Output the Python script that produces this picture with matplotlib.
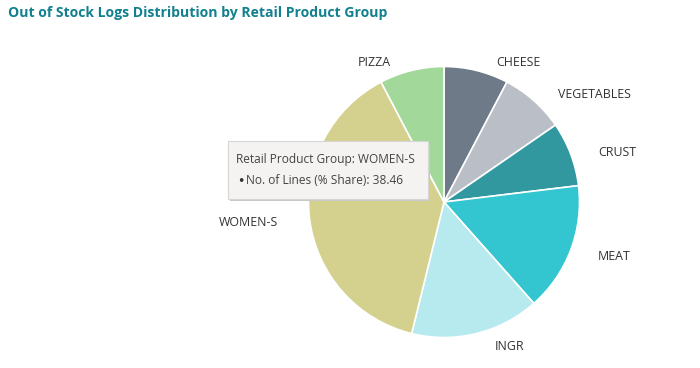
import matplotlib
matplotlib.use("Agg")
import matplotlib.pyplot as plt
from matplotlib.patches import FancyBboxPatch

categories = ["CHEESE", "VEGETABLES", "CRUST", "MEAT", "INGR", "WOMEN-S", "PIZZA"]
lines_count = [1, 1, 1, 2, 2, 5, 1]
share_pct = [7.69, 7.69, 7.69, 15.38, 15.38, 38.46, 7.69]
colors = ["#6e7a87", "#b9bec7", "#31989f", "#33c5d0", "#b7eaee", "#d4d18e", "#a2d89a"]
title = "Out of Stock Logs Distribution by Retail Product Group"
tooltip_group = "WOMEN-S"

W, H = 700, 368
fig = plt.figure(figsize=(W / 100, H / 100), dpi=100)
ax = fig.add_axes([0, 0, 1, 1])
ax.set_xlim(0, W)
ax.set_ylim(0, H)
ax.set_aspect("equal")
ax.axis("off")

cx, cy, r = 444, H - 202, 135.5
wedges, texts = ax.pie(share_pct, labels=categories, colors=colors, startangle=90,
                       counterclock=False, center=(cx, cy), radius=r,
                       wedgeprops=dict(edgecolor="white", linewidth=1.2),
                       labeldistance=1.15, textprops=dict(fontsize=8.9, color="#333333",
                                                          family="Open Sans"))
label_pos = {"CHEESE": (518, 62), "VEGETABLES": (594, 94), "CRUST": (617, 152),
             "MEAT": (614, 256), "INGR": (510, 347), "WOMEN-S": (248, 222), "PIZZA": (374, 62)}
for t in texts:
    x, y = label_pos[t.get_text()]
    t.set_position((x, H - y))
    t.set_ha("center")
    t.set_va("center")

ax.set_xlim(0, W)
ax.set_ylim(0, H)

fig.text(8 / W, 1 - 13 / H, title, fontsize=10.1, fontweight="bold", color="#12808f",
         family="Open Sans", ha="left", va="center")

# tooltip
idx = categories.index(tooltip_group)
shadow = FancyBboxPatch((230, H - 201), 200, 58, boxstyle="square,pad=0",
                        facecolor="#c8c8c8", edgecolor="none", zorder=4)
ax.add_patch(shadow)
box = FancyBboxPatch((228, H - 199), 200, 58, boxstyle="square,pad=0",
                     facecolor="#f4f3f1", edgecolor="#d6d6d6", linewidth=0.8, zorder=5)
ax.add_patch(box)
ax.text(236, H - 160, f"Retail Product Group: {tooltip_group}", fontsize=8.6, color="#444444",
        family="Open Sans", va="center", ha="left", zorder=6)
ax.text(237, H - 181, "\u2022", fontsize=9, color="#333333",
        family="DejaVu Sans", va="center", ha="left", zorder=6)
ax.text(246, H - 181, f"No. of Lines (% Share): {share_pct[idx]:.2f}", fontsize=8.6,
        color="#444444", family="Open Sans", va="center", ha="left", zorder=6)

fig.savefig("out.png", dpi=100, facecolor="white")
